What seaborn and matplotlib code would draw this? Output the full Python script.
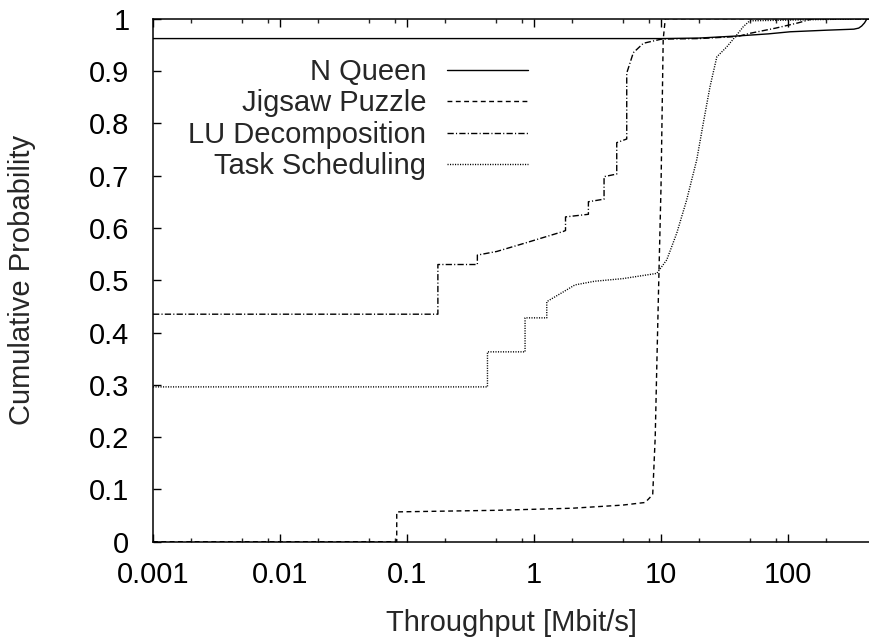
import numpy as np
import pandas as pd
import seaborn as sns
import matplotlib.pyplot as plt
from matplotlib.ticker import FixedLocator, FixedFormatter, LogLocator, NullFormatter

# values (throughput in Mbit/s, cumulative probability)
nqueen_x = [0.001, 10, 20, 40, 70, 104, 200, 330, 360, 380, 400, 419, 434]
nqueen_y = [0.962, 0.962, 0.963, 0.967, 0.971, 0.975, 0.978, 0.980, 0.982, 0.986, 0.992, 1.0, 1.0]

jigsaw_x = [0.001, 0.083, 0.083, 0.5, 2, 5, 7.5, 8.6, 9.0, 9.25, 9.6, 10.0, 10.4, 10.8, 434]
jigsaw_y = [0.0, 0.0, 0.057, 0.060, 0.064, 0.070, 0.075, 0.09, 0.20, 0.33, 0.50, 0.68, 0.96, 1.0, 1.0]

lu_x = [0.001, 0.175, 0.175, 0.358, 0.358, 0.51, 0.877, 1.69, 1.77, 1.77, 2.68, 2.68,
        3.56, 3.56, 4.48, 4.48, 5.37, 5.37, 6.05, 7.26, 10.1, 20, 40, 50, 80, 120, 157, 434]
lu_y = [0.435, 0.435, 0.530, 0.530, 0.548, 0.555, 0.572, 0.593, 0.595, 0.621, 0.626, 0.650,
        0.655, 0.698, 0.703, 0.763, 0.770, 0.896, 0.935, 0.953, 0.961, 0.962, 0.966, 0.972,
        0.982, 0.992, 1.0, 1.0]

task_x = [0.001, 0.43, 0.43, 0.85, 0.85, 1.26, 1.26, 1.71, 2.1, 3, 5, 9.25, 11.1, 13.3,
          15.9, 19.1, 21.5, 24.3, 27.5, 32.9, 39.5, 44.5, 50, 434]
task_y = [0.296, 0.296, 0.363, 0.363, 0.428, 0.428, 0.459, 0.478, 0.491, 0.498, 0.503,
          0.513, 0.539, 0.590, 0.653, 0.730, 0.800, 0.870, 0.927, 0.946, 0.969, 0.985,
          0.996, 1.0]

series_names = ['N Queen', 'Jigsaw Puzzle', 'LU Decomposition', 'Task Scheduling']
x_ticks = [0.001, 0.01, 0.1, 1, 10, 100]
x_tick_labels = ['0.001', '0.01', '0.1', '1', '10', '100']
y_ticks = [0, 0.1, 0.2, 0.3, 0.4, 0.5, 0.6, 0.7, 0.8, 0.9, 1.0]
y_tick_labels = ['0', '0.1', '0.2', '0.3', '0.4', '0.5', '0.6', '0.7', '0.8', '0.9', '1']

sns.set_style('ticks')
plt.rcParams['font.family'] = ['Liberation Sans', 'DejaVu Sans']
FS = 21

fig = plt.figure(figsize=(8.69, 6.38), dpi=100)
ax = fig.add_axes([153 / 869, 96.3 / 638, 716 / 869, 523 / 638])

styles = [
    (nqueen_x, nqueen_y, '-'),
    (jigsaw_x, jigsaw_y, (0, (3.5, 2.5))),
    (lu_x, lu_y, (0, (4.5, 1.6, 0.8, 1.6))),
    (task_x, task_y, (0, (0.8, 1.0))),
]
for (xs, ys, ls), name in zip(styles, series_names):
    df = pd.DataFrame({'x': xs, 'y': ys})
    sns.lineplot(data=df, x='x', y='y', ax=ax, sort=False, estimator=None,
                 color='black', lw=1.0, linestyle=ls, label=name)

ax.set_xscale('log')
ax.set_xlim(0.001, 434)
ax.set_ylim(0, 1)

ax.xaxis.set_major_locator(FixedLocator(x_ticks))
ax.xaxis.set_major_formatter(FixedFormatter(x_tick_labels))
ax.xaxis.set_minor_locator(LogLocator(base=10, subs=[2, 5, 8]))
ax.xaxis.set_minor_formatter(NullFormatter())
ax.yaxis.set_major_locator(FixedLocator(y_ticks))
ax.yaxis.set_major_formatter(FixedFormatter(y_tick_labels))

ax.tick_params(axis='both', which='major', direction='in', length=6, width=1.0,
               labelsize=FS, color='black', labelcolor='black')
ax.tick_params(axis='both', which='minor', direction='in', length=3, width=1.0)
ax.tick_params(axis='x', which='both', top=True, pad=14)
ax.tick_params(axis='y', which='major', pad=17)

for side in ['left', 'bottom', 'top']:
    ax.spines[side].set_linewidth(1.1)
    ax.spines[side].set_color('black')
ax.spines['right'].set_visible(False)

ax.set_xlabel('Throughput [Mbit/s]', fontsize=FS)
ax.set_ylabel('Cumulative Probability', fontsize=FS)
ax.xaxis.set_label_coords(0.5, -0.156)
ax.yaxis.set_label_coords(-0.183, 0.5)
ax.xaxis.label.set_va('center')
ax.yaxis.label.set_va('center')

leg = ax.legend(loc='upper right', bbox_to_anchor=(0.524, 0.925), frameon=False,
                fontsize=FS, markerfirst=False, handlelength=2.8, handletextpad=0.7,
                labelspacing=0.12, borderaxespad=0, borderpad=0)
for line in leg.get_lines():
    line.set_linewidth(1.0)

fig.savefig('out.png', dpi=100)
